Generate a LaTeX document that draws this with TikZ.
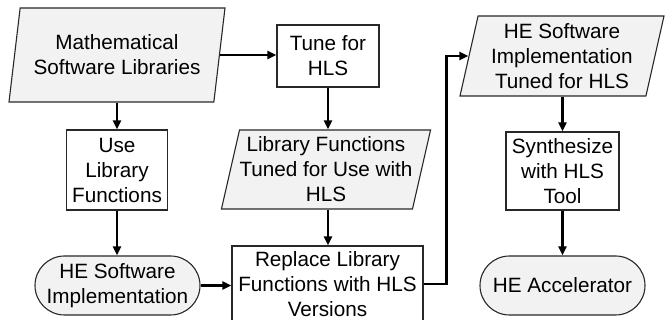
\documentclass[tikz,border=0pt]{standalone}
\usepackage{fontspec}
\setmainfont{Liberation Sans}
\usetikzlibrary{shapes.geometric,arrows.meta}
\definecolor{boxfill}{RGB}{242,242,242}
\definecolor{boxline}{RGB}{40,40,40}
\begin{document}
\begin{tikzpicture}[x=1pt,y=-1pt,
  every node/.style={font=\fontsize{20.7}{25}\selectfont, align=center, inner sep=0pt},
  proc/.style={draw=boxline, line width=1.1pt, fill=white, rectangle},
  iobox/.style={draw=boxline, line width=1.1pt, fill=boxfill, trapezium,
    trapezium left angle=74.5, trapezium right angle=105.5, trapezium stretches body},
  term/.style={draw=boxline, line width=1.1pt, fill=boxfill, rectangle, rounded corners=29.5pt},
  arr/.style={line width=2.6pt, -{Triangle[length=9pt,width=8pt]}}
]
\useasboundingbox (0,0) rectangle (665,320);
\node[iobox, minimum width=216pt, minimum height=94pt] (n1) at (117,55) {Mathematical\\Software Libraries};
\node[proc, minimum width=102pt, minimum height=62pt] (tune) at (328,56) {Tune for\\HLS};
\node[proc, minimum width=101pt, minimum height=80pt] (use) at (117,170) {Use\\Library\\Functions};
\node[iobox, minimum width=200pt, minimum height=79pt] (libt) at (326,169.5) {Library Functions\\Tuned for Use with\\HLS};
\node[term, minimum width=165pt, minimum height=59pt] (hesw) at (117.5,285.5) {HE Software\\Implementation};
\node[proc, minimum width=191pt, minimum height=76pt] (repl) at (327.5,284) {Replace Library\\Functions with HLS\\Versions};
\node[iobox, minimum width=204pt, minimum height=80pt] (het) at (562,56) {HE Software\\Implementation\\Tuned for HLS};
\node[proc, minimum width=113pt, minimum height=78pt] (synth) at (562.5,171) {Synthesize\\with HLS\\Tool};
\node[term, minimum width=165pt, minimum height=59pt] (acc) at (562.5,285.5) {HE Accelerator};

\draw[arr] (n1.east) -- (tune.west |- n1.east);
\draw[arr] (n1.south) -- (n1.south |- use.north);
\draw[arr] (tune.south) -- (tune.south |- libt.north);
\draw[arr] (use.south) -- (use.south |- hesw.north);
\draw[arr] (libt.south -| tune.south) -- (tune.south |- repl.north);
\draw[arr] (hesw.east) -- (repl.west |- hesw.east);
\draw[arr] (repl.east) -- ++(23,0) |- (het.west);
\draw[arr] (het.south -| synth.north) -- (synth.north);
\draw[arr] (synth.south) -- (acc.north);
\end{tikzpicture}
\end{document}
